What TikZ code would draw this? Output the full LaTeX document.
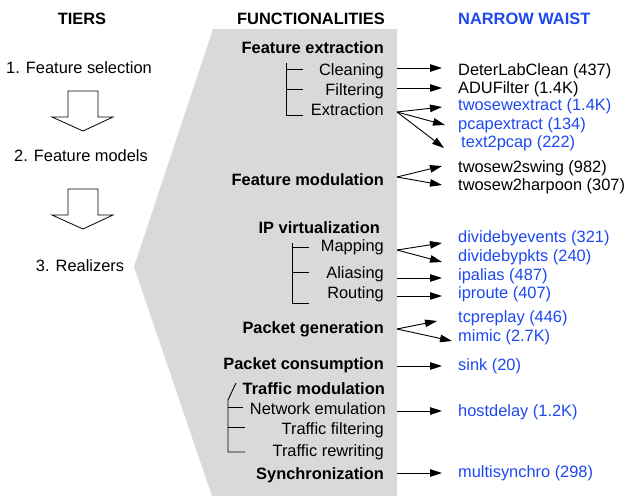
\documentclass[tikz,border=0pt]{standalone}
\usepackage{fontspec}
\setmainfont{Liberation Sans}
\usetikzlibrary{arrows.meta}
\definecolor{waistblue}{RGB}{28,72,240}
\definecolor{panelgray}{RGB}{217,217,217}
\begin{document}
\begin{tikzpicture}[x=1pt,y=-1pt,
  font=\fontsize{16.4}{19}\selectfont,
  lbl/.style={inner sep=0pt,text height=12pt,text depth=0pt},
  func/.style={lbl,anchor=east},
  head/.style={lbl,font=\fontsize{16.4}{19}\selectfont\bfseries},
  bold/.style={func,font=\fontsize{16.4}{19}\selectfont\bfseries},
  tool/.style={lbl,anchor=west},
  btool/.style={tool,text=waistblue},
  tier/.style={lbl,anchor=center},
  treeline/.style={line width=0.9pt},
  arr/.style={line width=0.9pt,-{Triangle[length=12pt,width=7.5pt]}},
  hollow/.style={line width=0.8pt,fill=white,line join=miter}]
\useasboundingbox (0,0) rectangle (638,496);

% grey band holding the functionalities
\fill[panelgray] (213,29) -- (397,29) -- (397,496) -- (212,496) -- (134,267) -- cycle;

% column headings
\node[head,anchor=center] (hTiers) at (82,18) {TIERS};
\node[head,anchor=east] (hFunc) at (385,18) {FUNCTIONALITIES};
\node[head,anchor=west,text=waistblue] (hWaist) at (458,18) {NARROW WAIST};

% tiers
\node[tier] (t1) at (79,67) {1. Feature selection};
\node[tier] (t2) at (81,155) {2. Feature models};
\node[tier] (t3) at (80,265) {3. Realizers};
\draw[hollow] (68,91) -- (98,91) -- (98,117) -- (113,117) -- (83,131) -- (52,117) -- (68,117) -- cycle;
\draw[hollow] (68,189) -- (98,189) -- (98,215) -- (113,215) -- (83,229) -- (52,215) -- (68,215) -- cycle;

% functionalities
\node[bold] (fExt) at (384,47) {Feature extraction};
\node[func] (fClean) at (384,69) {Cleaning};
\node[func] (fFilt) at (384,89) {Filtering};
\node[func] (fExtr) at (384,109) {Extraction};
\node[bold] (fMod) at (384,179) {Feature modulation};
\node[bold] (fIP) at (380,227) {IP virtualization};
\node[func] (fMap) at (384,245) {Mapping};
\node[func] (fAlias) at (384,272) {Aliasing};
\node[func] (fRoute) at (384,292) {Routing};
\node[bold] (fGen) at (384,327) {Packet generation};
\node[bold] (fCons) at (384,363) {Packet consumption};
\node[bold] (fTraf) at (385,388) {Traffic modulation};
\node[func] (fNet) at (386,408) {Network emulation};
\node[func] (fTFilt) at (384,428) {Traffic filtering};
\node[func] (fTRew) at (384,450) {Traffic rewriting};
\node[bold] (fSync) at (384,473) {Synchronization};

% sub-item brackets
\draw[treeline] (286,63) -- (286,115) -- (303,115);
\draw[treeline] (286,69) -- (303,69);
\draw[treeline] (286,89) -- (303,89);
\draw[treeline] (292,243) -- (292,303) -- (309,303);
\draw[treeline] (292,247) -- (309,247);
\draw[treeline] (292,272) -- (309,272);
\draw[treeline] (236,383) -- (228,400) -- (228,452) -- (245,452);
\draw[treeline] (228,407) -- (243,407);
\draw[treeline] (228,427) -- (245,427);

% narrow-waist tools
\node[tool] (wDeter) at (458,69) {DeterLabClean (437)};
\node[tool] (wADU) at (458,87) {ADUFilter (1.4K)};
\node[btool] (wTwx) at (458,104) {twosewextract (1.4K)};
\node[btool] (wPcx) at (458,123) {pcapextract (134)};
\node[btool] (wT2p) at (461,141) {text2pcap (222)};
\node[tool] (wSwing) at (458,166) {twosew2swing (982)};
\node[tool] (wHarp) at (458,184) {twosew2harpoon (307)};
\node[btool] (wEvents) at (458,236) {dividebyevents (321)};
\node[btool] (wPkts) at (458,255) {dividebypkts (240)};
\node[btool] (wAlias) at (458,274) {ipalias (487)};
\node[btool] (wRoute) at (458,292) {iproute (407)};
\node[btool] (wTcp) at (458,316) {tcpreplay (446)};
\node[btool] (wMimic) at (458,335) {mimic (2.7K)};
\node[btool] (wSink) at (458,364) {sink (20)};
\node[btool] (wHost) at (458,410) {hostdelay (1.2K)};
\node[btool] (wMulti) at (458,471) {multisynchro (298)};

% arrow origins on the edge of the grey band
\coordinate (oClean) at (397,68);
\coordinate (oFilt) at (397,88);
\coordinate (oExtr) at (397,112);
\coordinate (oMod) at (397,177);
\coordinate (oMap) at (397,250);
\coordinate (oAlias) at (397,278);
\coordinate (oRoute) at (397,296);
\coordinate (oGen) at (397,329);
\coordinate (oCons) at (397,366);
\coordinate (oNet) at (397,411);
\coordinate (oSync) at (397,473);

% connectors
\draw[arr] (oClean) -- ([shift={(-16,-1)}]wDeter.west);
\draw[arr] (oFilt) -- ([shift={(-16,1)}]wADU.west);
\draw[arr] (oExtr) -- ([shift={(-16,3)}]wTwx.west);
\draw[arr] (oExtr) -- ([shift={(-13,2)}]wPcx.west);
\draw[arr] (oExtr) -- ([shift={(-17,7)}]wT2p.west);
\draw[arr] (oMod) -- ([shift={(-16,0)}]wSwing.west);
\draw[arr] (oMod) -- ([shift={(-16,1)}]wHarp.west);
\draw[arr] (oMap) -- ([shift={(-16,7)}]wEvents.west);
\draw[arr] (oMap) -- ([shift={(-16,7)}]wPkts.west);
\draw[arr] (oAlias) -- ([shift={(-16,4)}]wAlias.west);
\draw[arr] (oRoute) -- ([shift={(-16,4)}]wRoute.west);
\draw[arr] (oGen) -- ([shift={(-21,5)}]wTcp.west);
\draw[arr] (oGen) -- ([shift={(-6,6)}]wMimic.west);
\draw[arr] (oCons) -- ([shift={(-16,2)}]wSink.west);
\draw[arr] (oNet) -- ([shift={(-16,1)}]wHost.west);
\draw[arr] (oSync) -- ([shift={(-16,2)}]wMulti.west);
\end{tikzpicture}
\end{document}
